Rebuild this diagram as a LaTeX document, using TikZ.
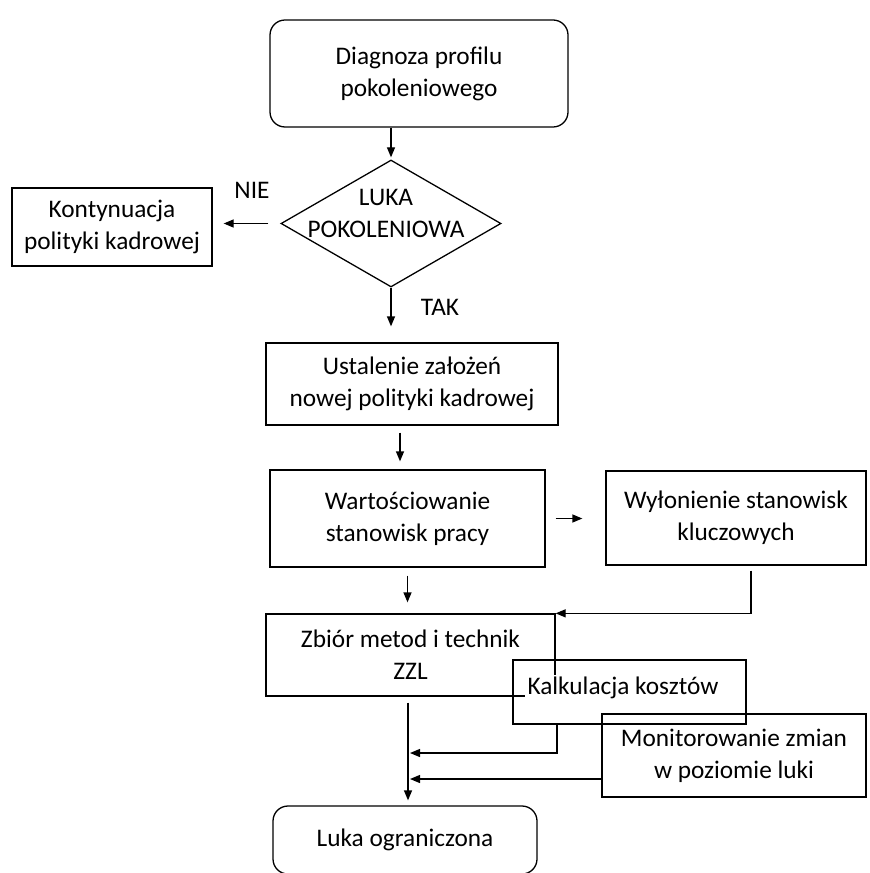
\documentclass[tikz,border=0pt]{standalone}
\usepackage{fontspec}
\setmainfont{Carlito}
\usepackage{tikz}
\usetikzlibrary{positioning, shapes, arrows.meta}

\begin{document}
\begin{tikzpicture}[-{Triangle[length=0.3cm,width=0.24cm]}, line width=1.1pt]
		\tikzset{
		    proc/.style= {rectangle, draw, inner sep=0pt, align=center, font=\fontsize{21.6}{27.3}\selectfont},
		    term/.style= {proc, rounded corners=0.45cm},
		    cond/.style= {diamond, draw, inner sep=0pt, minimum width=6.6cm, minimum height=3.81cm},
		    lbl/.style= {align=center, font=\fontsize{21.6}{27.3}\selectfont},
		}
		\useasboundingbox (0,0) rectangle (26.07,-26.19);
		
		\node[term, minimum width=8.94cm, minimum height=3.21cm] (start) at (12.57,-2.205) {Diagnoza profilu\\pokoleniowego};
		\node[cond] (gap) at (11.73,-6.705) {};
		\node[lbl] (gaptext) at (11.58,-6.39) {LUKA\\POKOLENIOWA};
		\node[proc, minimum width=6cm, minimum height=2.34cm] (cont) at (3.36,-6.81) {Kontynuacja\\polityki kadrowej};
		\node[lbl] (nie) at (7.56,-5.7) {NIE};
		\node[lbl] (tak) at (13.2,-9.21) {TAK};
		
		\node[proc, minimum width=8.76cm, minimum height=2.46cm] (set) at (12.36,-11.52) {Ustalenie założeń\\nowej polityki kadrowej};
		\node[proc, minimum width=8.25cm, minimum height=2.91cm] (wart) at (12.225,-15.555) {Wartościowanie\\stanowisk pracy};
		\node[proc, minimum width=7.8cm, minimum height=2.82cm] (wyl) at (22.08,-15.54) {Wyłonienie stanowisk\\kluczowych};
		\node[proc, minimum width=8.67cm, minimum height=2.46cm] (zbior) at (12.315,-19.65) {Zbiór metod i technik\\ZZL};
		\node[proc, minimum width=6.99cm, minimum height=1.92cm] (kalk) at (18.885,-20.76) {};
		\node[lbl, fill=white, inner sep=2pt] (kalktext) at (18.69,-20.64) {Kalkulacja kosztów};
		\node[proc, minimum width=7.92cm, minimum height=2.49cm] (mon) at (22.02,-22.665) {Monitorowanie zmian\\w poziomie luki};
		\node[term, minimum width=7.92cm, minimum height=2.04cm] (luka) at (12.15,-25.2) {Luka ograniczona};
		
		\coordinate (j1) at (12.3,-22.59);
		\coordinate (j2) at (12.3,-23.37);
		
		\draw[shorten >=0.06cm] (gap.north |- start.south) -- (gap.north);
		\draw[shorten <=0.36cm, shorten >=0.33cm] (gap.west) -- (gap.west -| cont.east);
		\draw[shorten >=0.48cm] (gap.south) -- (gap.south |- set.north);
		\draw[shorten <=0.21cm, shorten >=0.24cm] ([xshift=-0.36cm]set.south) -- ([xshift=-0.36cm]set.south |- wart.north);
		\draw[shorten <=0.3cm, shorten >=0.69cm] (wart.east) -- (wart.east -| wyl.west);
		\draw[shorten <=0.24cm, shorten >=0.33cm] (wart.south) -- (wart.south |- zbior.north);
		\draw[shorten <=0.15cm] ([xshift=0.45cm]wyl.south) |- (zbior.north east);
		\draw[shorten <=0.18cm, shorten >=0.15cm] ([xshift=-0.075cm]zbior.south) -- ([xshift=-0.075cm]zbior.south |- luka.north);
		\draw ([xshift=-2.175cm]kalk.south) |- (j1);
		\draw (mon.west |- j2) -- (j2);
	\end{tikzpicture}
\end{document}
